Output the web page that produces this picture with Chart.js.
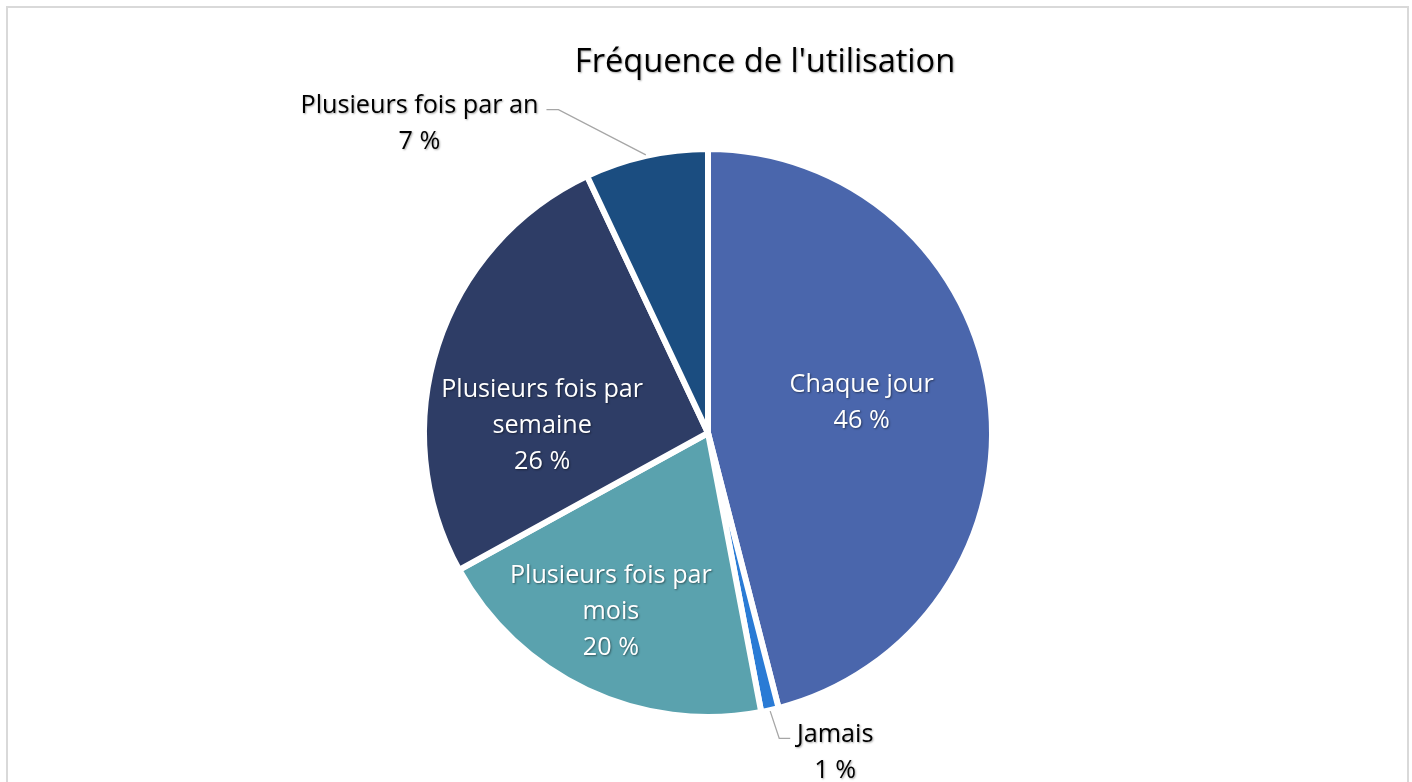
<!DOCTYPE html>
<html>
<head>
<meta charset="utf-8">
<script src="https://cdn.jsdelivr.net/npm/chart.js@4.4.1/dist/chart.umd.min.js"></script>
<style>
  html, body { margin: 0; padding: 0; background: #ffffff; }
  #wrap { width: 1412px; height: 782px; position: relative; }
</style>
</head>
<body>
<div id="wrap"><canvas id="c" width="1412" height="782"></canvas></div>
<script>
const titleText = "Fréquence de l'utilisation";
const categories = ["Chaque jour", "Jamais", "Plusieurs fois par mois", "Plusieurs fois par semaine", "Plusieurs fois par an"];
const labelLines = [["Chaque jour"], ["Jamais"], ["Plusieurs fois par", "mois"], ["Plusieurs fois par", "semaine"], ["Plusieurs fois par an"]];
const percentValues = [46, 1, 20, 26, 7];
const sliceColors = ["#4A66AC", "#2A7BD5", "#5AA2AE", "#2E3D66", "#1B4D80"];
const labelInside = [true, false, true, true, false];
const labelTextColors = ["#ffffff", "#000000", "#ffffff", "#ffffff", "#000000"];
// label block centre offsets from pie centre, in units of radius
const labelOffsets = [[0.541, -0.117], [0.448, 1.114], [-0.342, 0.619], [-0.584, -0.036], [-1.016, -1.100]];
// leader-line elbow offsets relative to label centre (px) and end point
const leaderElbow = [null, [-56, -11, -45, -11], null, null, [139, -11, 127, -11]];

const FONT = '"Open Sans", "Noto Sans", sans-serif';

const overlay = {
  id: 'overlay',
  afterDraw(chart) {
    const ctx = chart.ctx;
    const meta = chart.getDatasetMeta(0);
    const arc0 = meta.data[0];
    const cx = arc0.x, cy = arc0.y, r = arc0.outerRadius;
    ctx.save();
    // frame
    ctx.strokeStyle = '#d9d9d9';
    ctx.lineWidth = 2;
    ctx.strokeRect(7, 7, 1401, 800);

    // title
    ctx.textAlign = 'center';
    ctx.textBaseline = 'middle';
    ctx.font = '28px ' + FONT;
    let tw = ctx.measureText(titleText).width;
    let tsize = 28 * 380 / tw;
    ctx.font = tsize.toFixed(1) + 'px ' + FONT;
    ctx.shadowColor = 'rgba(0,0,0,0.35)';
    ctx.shadowBlur = 2;
    ctx.shadowOffsetX = 1;
    ctx.shadowOffsetY = 1;
    ctx.fillStyle = '#000000';
    ctx.fillText(titleText, 765, 63);

    // label font size fitted
    ctx.font = '20px ' + FONT;
    let lw = ctx.measureText('Plusieurs fois par').width;
    let lsize = 20 * 202 / lw;
    const lf = lsize.toFixed(1) + 'px ' + FONT;
    const lineH = 36;
    const textShift = 3;

    meta.data.forEach((arc, i) => {
      const lx = cx + labelOffsets[i][0] * r;
      const ly = cy + labelOffsets[i][1] * r;
      const lines = labelLines[i].concat([percentValues[i] + ' %']);
      // leader line
      if (leaderElbow[i]) {
        const mid = (arc.startAngle + arc.endAngle) / 2;
        const ex = cx + Math.cos(mid) * (r + 1);
        const ey = cy + Math.sin(mid) * (r + 1);
        ctx.save();
        ctx.shadowColor = 'transparent';
        ctx.strokeStyle = '#a6a6a6';
        ctx.lineWidth = 1.3;
        ctx.beginPath();
        ctx.moveTo(ex, ey);
        ctx.lineTo(lx + leaderElbow[i][0], ly + leaderElbow[i][1]);
        ctx.lineTo(lx + leaderElbow[i][2], ly + leaderElbow[i][3]);
        ctx.stroke();
        ctx.restore();
      }
      ctx.font = lf;
      ctx.fillStyle = labelTextColors[i];
      ctx.shadowColor = labelInside[i] ? 'rgba(0,0,0,0.45)' : 'rgba(0,0,0,0.35)';
      const top = ly - (lines.length - 1) * lineH / 2 + textShift;
      lines.forEach((t, k) => ctx.fillText(t, lx, top + k * lineH));
    });
    ctx.restore();
  }
};

new Chart(document.getElementById('c'), {
  type: 'pie',
  data: {
    labels: categories,
    datasets: [{
      data: percentValues,
      backgroundColor: sliceColors,
      borderColor: '#ffffff',
      borderWidth: 6,
      hoverOffset: 0
    }]
  },
  options: {
    responsive: false,
    animation: false,
    rotation: 0,
    layout: { padding: { top: 146, bottom: 62, left: 4, right: 0 } },
    plugins: {
      legend: { display: false },
      title: { display: false },
      tooltip: { enabled: false }
    }
  },
  plugins: [overlay]
});
</script>
</body>
</html>
